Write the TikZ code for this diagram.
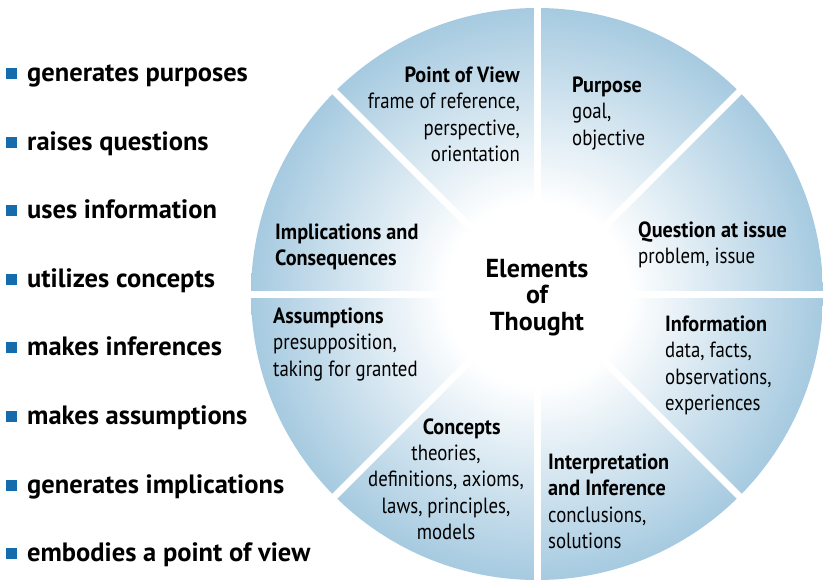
\documentclass[tikz,border=0pt]{standalone}
\usepackage{fontspec}
\setmainfont{PT Sans}
\newfontfamily\condfont[FakeStretch=0.855, BoldFeatures={FakeStretch=0.92}]{PT Sans}
\definecolor{wblue}{RGB}{166,202,224}
\definecolor{bblue}{RGB}{20,108,172}
\pgfdeclareradialshading{wheelshade}{\pgfpoint{0bp}{0bp}}{color(0bp)=(white); color(8bp)=(white); color(25bp)=(wblue); color(50bp)=(wblue)}
\begin{document}
\begin{tikzpicture}[x=1pt,y=-1pt,
  blk/.style={inner sep=0pt, font=\condfont\fontsize{22}{26.6}\selectfont},
  bul/.style={fill=bblue, minimum size=11pt, inner sep=0pt},
  btxt/.style={anchor=base west, inner sep=0pt, font=\bfseries\fontsize{26.5}{30}\selectfont},
  gap/.style={white, line width=7pt}]
\useasboundingbox (0,0) rectangle (823,581);
\coordinate (o) at (537,294);
\shade[shading=wheelshade] (o) circle (286);
\foreach \a in {0,45,...,315} \draw[gap] (o) -- ++(\a:290);

\node[blk, anchor=base east] (pov) at (520,82) {\begin{tabular}[t]{@{}r@{}}\textbf{Point of View}\\frame of reference,\\perspective,\\orientation\end{tabular}};
\node[blk, anchor=base west] (pur) at (572,92) {\begin{tabular}[t]{@{}l@{}}\textbf{Purpose}\\goal,\\objective\end{tabular}};
\node[blk, anchor=base west] (qai) at (638,237) {\begin{tabular}[t]{@{}l@{}}\textbf{Question at issue}\\problem, issue\end{tabular}};
\node[blk, anchor=base west] (inf) at (665,331) {\begin{tabular}[t]{@{}l@{}}\textbf{Information}\\data, facts,\\observations,\\experiences\end{tabular}};
\node[blk, anchor=base west] (int) at (548,469) {\begin{tabular}[t]{@{}l@{}}\textbf{Interpretation}\\\textbf{and Inference}\\conclusions,\\solutions\end{tabular}};
\node[blk, anchor=base] (conh) at (461.7,434) {\textbf{Concepts}};
\node[blk, anchor=base] (conb) at (446,460) {\begin{tabular}[t]{@{}c@{}}theories,\\definitions, axioms,\\laws, principles,\\models\end{tabular}};
\node[blk, anchor=base west] (asm) at (273,323) {\begin{tabular}[t]{@{}l@{}}\textbf{Assumptions}\\presupposition,\\taking for granted\end{tabular}};
\node[blk, anchor=base west] (imp) at (275,239) {\begin{tabular}[t]{@{}l@{}}\textbf{Implications and}\\\textbf{Consequences}\end{tabular}};
\node[inner sep=0pt, anchor=base, font=\bfseries\fontsize{26}{26.5}\selectfont] (eot) at (537,277) {\begin{tabular}[t]{@{}c@{}}Elements\\of\\Thought\end{tabular}};

\foreach \i/\t in {0/generates purposes,1/raises questions,2/uses information,3/utilizes concepts,4/makes inferences,5/makes assumptions,6/generates implications,7/embodies a point of view}{
  \node[bul] (b\i) at (11.5,{73.5+68.6*\i}) {};
  \node[btxt] (t\i) at (27,{81.5+68.6*\i}) {\t};
}
\end{tikzpicture}
\end{document}
